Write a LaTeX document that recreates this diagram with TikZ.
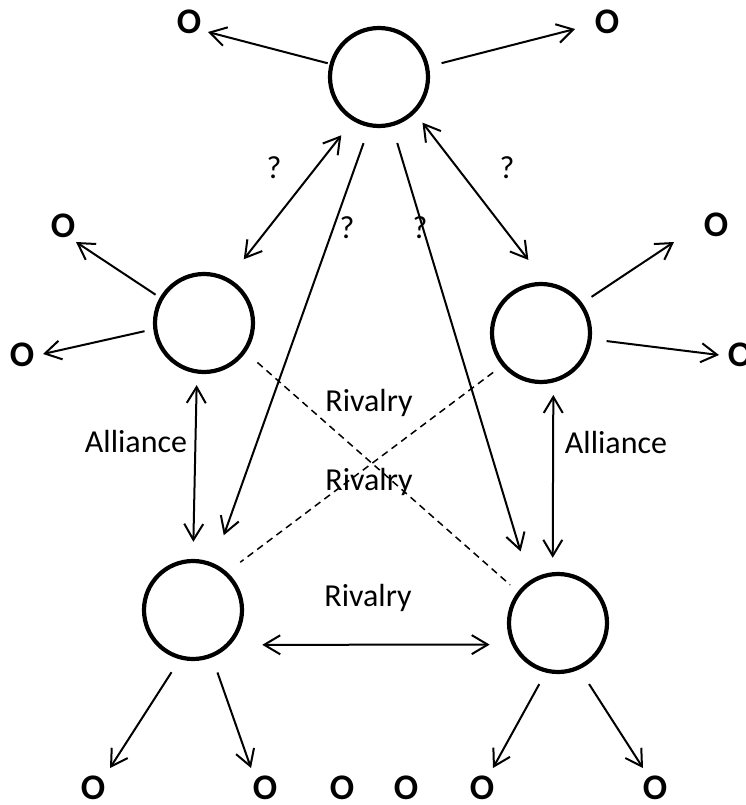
\documentclass[tikz,border=0pt]{standalone}
\usepackage{fontspec}
\setmainfont{Carlito}
\usetikzlibrary{arrows.meta}
\begin{document}
\begin{tikzpicture}[x=1pt,y=-1pt,
  agent/.style={circle,draw,line width=4.2pt,minimum size=98pt,inner sep=0pt},
  outlabel/.style={font=\fontsize{36}{40}\selectfont\bfseries,inner sep=0pt},
  lab/.style={font=\fontsize{32}{36}\selectfont,inner sep=0pt},
  conn/.style={line width=2pt},
  tipend/.style={-{Straight Barb[length=16pt,width=19pt]}},
  twoway/.style={{Straight Barb[length=16pt,width=19pt]}-{Straight Barb[length=16pt,width=19pt]}},
  rival/.style={line width=1.5pt,dash pattern=on 7pt off 5pt}]
\useasboundingbox (0,0) rectangle (745,805);

% agents
\node[agent] (T)  at (379,77)  {};
\node[agent] (L)  at (204,323) {};
\node[agent] (R)  at (541,333) {};
\node[agent] (BL) at (193,610) {};
\node[agent] (BR) at (558,623) {};

% outcome labels
\node[outlabel] (oT1)  at (189,22)  {O};
\node[outlabel] (oT2)  at (607,22)  {O};
\node[outlabel] (oL1)  at (63,226)  {O};
\node[outlabel] (oL2)  at (22,355)  {O};
\node[outlabel] (oR1)  at (716,225) {O};
\node[outlabel] (oR2)  at (740,355) {O};
\node[outlabel] (oBL1) at (93,788)  {O};
\node[outlabel] (oBL2) at (265,788) {O};
\node[outlabel] (oB3)  at (342,788) {O};
\node[outlabel] (oB4)  at (406,788) {O};
\node[outlabel] (oBR1) at (482,788) {O};
\node[outlabel] (oBR2) at (655,788) {O};

% arrow tips toward outcomes
\coordinate (tT1)  at (208,32);
\coordinate (tT2)  at (575,29);
\coordinate (tL1)  at (76,242);
\coordinate (tL2)  at (43,354);
\coordinate (tR1)  at (674,242);
\coordinate (tR2)  at (719,355);
\coordinate (tBL1) at (110,768);
\coordinate (tBL2) at (251,768);
\coordinate (tBR1) at (493,768);
\coordinate (tBR2) at (643,768);

\draw[conn,tipend,shorten <=2pt]    (T.165)     -- (tT1);
\draw[conn,tipend,shorten <=13pt]   (T.12.5)    -- (tT2);
\draw[conn,tipend,shorten <=5pt]    (L.150)     -- (tL1);
\draw[conn,tipend,shorten <=9pt]    (L.187.6)   -- (tL2);
\draw[conn,tipend,shorten <=11pt]   (R.36.5)    -- (tR1);
\draw[conn,tipend,shorten <=15pt]   (R.-7.8)    -- (tR2);
\draw[conn,tipend,shorten <=15.3pt] (BL.-105.7) -- (tBL1);
\draw[conn,tipend,shorten <=16pt]   (BL.-68)    -- (tBL2);
\draw[conn,tipend,shorten <=13.2pt] (BR.-104.4) -- (tBR1);
\draw[conn,tipend,shorten <=17.5pt] (BR.-65.1)  -- (tBR2);

% relations from the top agent
\draw[conn,twoway,shorten <=18.4pt,shorten >=24.2pt] (T.-121.4) -- (L.61.9);
\draw[conn,tipend,shorten <=17pt,shorten >=29.8pt]   (T.-101.6) -- (BL.66.9);
\draw[conn,tipend,shorten <=17.4pt,shorten >=30.5pt] (T.-75.2)  -- (BR.124.9);
\draw[conn,twoway,shorten <=12pt,shorten >=28pt]     (T.-45.6)  -- (R.85.4);

% alliances
\draw[conn,twoway,shorten <=11.5pt,shorten >=17.1pt] (L.-98.2) -- (BL.90.5);
\draw[conn,twoway,shorten <=12.4pt,shorten >=14.4pt] (R.-76.4) -- (BR.96.8);

% rivalries
\draw[conn,twoway,shorten <=31.9pt,shorten >=22pt] (BL.-43.3) -- (BR.205.6);
\draw[rival,shorten <=15.4pt,shorten >=10.2pt] (L.-35.7) -- (BR.142.2);
\draw[rival,shorten <=10.9pt,shorten >=16.4pt] (R.-140.4) -- (BL.48.4);

% labels
\node[lab] (q1) at (274,168) {?};
\node[lab] (q2) at (507,168) {?};
\node[lab] (q3) at (347,228) {?};
\node[lab] (q4) at (420,228) {?};
\node[lab] (al1) at (136,442) {Alliance};
\node[lab] (al2) at (616,443) {Alliance};
\node[lab] (rv1) at (369,403) {Rivalry};
\node[lab] (rv2) at (369,482) {Rivalry};
\node[lab] (rv3) at (368,598) {Rivalry};
\end{tikzpicture}
\end{document}
